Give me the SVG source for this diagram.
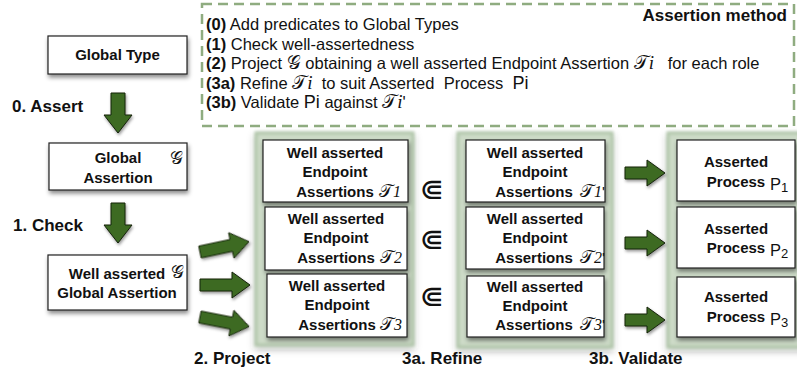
<svg xmlns="http://www.w3.org/2000/svg" width="797" height="371" viewBox="0 0 797 371">
<style>
.bx{fill:#fff;stroke:#222;stroke-width:1.2;filter:url(#sh)}
.bt{font-family:"Liberation Sans",Arial,sans-serif;font-weight:bold;font-size:15px;fill:#111;text-anchor:middle}
.lb{font-family:"Liberation Sans",Arial,sans-serif;font-weight:bold;font-size:17px;fill:#111}
.it{font-family:"Liberation Sans",Arial,sans-serif;font-size:16.5px;fill:#111}
.b{font-weight:bold}
.m{font-family:"DejaVu Serif","DejaVu Sans","Noto Sans",serif;font-weight:normal;font-style:normal}
.mi{font-family:"Liberation Serif","Times New Roman",serif;font-style:italic}
.pn{fill:#cddbc8;stroke:#afc5a8;stroke-width:3;filter:url(#psh)}
.ar{fill:#3d6a22;stroke:#15220c;stroke-width:1;filter:url(#ash)}
.sub{font-family:"DejaVu Serif","DejaVu Sans",serif;font-size:29px;fill:#111;text-anchor:middle}
</style>
<defs>
<filter id="sh" x="-20%" y="-20%" width="140%" height="160%"><feDropShadow dx="1" dy="3" stdDeviation="2" flood-color="#000" flood-opacity="0.45"/></filter>
<filter id="psh" x="-10%" y="-10%" width="120%" height="120%"><feGaussianBlur in="SourceGraphic" stdDeviation="1.5" result="b"/><feDropShadow in="b" dx="0" dy="3" stdDeviation="3" flood-color="#000" flood-opacity="0.3"/></filter>
<filter id="ash" x="-30%" y="-30%" width="160%" height="160%"><feDropShadow dx="1" dy="2" stdDeviation="1.5" flood-color="#000" flood-opacity="0.4"/></filter>
<path id="a50" d="M0,-6 H32 V-13 L50,0 L32,13 V6 H0 Z"/>
<path id="a40" d="M0,-6 H22 V-13 L40,0 L22,13 V6 H0 Z"/>
<path id="ad" d="M-7,0 V22 H-14 L0,40 L14,22 H7 V0 Z"/>
</defs>

<g id="method">
<rect x="202" y="4" width="592" height="122" fill="none" stroke="#8fac80" stroke-width="2.5" stroke-dasharray="10,6"/>
<text class="lb" x="787" y="21" text-anchor="end" font-size="16">Assertion method</text>
<text class="it" x="206" y="30"><tspan class="b">(0)</tspan> Add predicates to Global Types</text>
<text class="it" x="206" y="49.5"><tspan class="b">(1)</tspan> Check well-assertedness</text>
<text class="it" x="206" y="69" xml:space="preserve"><tspan class="b">(2)</tspan> Project <tspan class="m" font-size="19">𝒢</tspan> obtaining a well asserted Endpoint Assertion <tspan class="m" font-size="19">𝒯</tspan><tspan class="mi" font-size="19">i</tspan>   for each role</text>
<text class="it" x="206" y="88.5" xml:space="preserve"><tspan class="b">(3a)</tspan> Refine <tspan class="m" font-size="19">𝒯</tspan><tspan class="mi" font-size="19">i</tspan>  to suit Asserted  Process  <tspan font-size="18">Pi</tspan></text>
<text class="it" x="206" y="108" xml:space="preserve"><tspan class="b">(3b)</tspan> Validate <tspan font-size="18">Pi</tspan> against <tspan class="m" font-size="19">𝒯</tspan><tspan class="mi" font-size="19">i</tspan>'</text>
</g>

<g id="panels">
<rect class="pn" x="256" y="133" width="157" height="212"/>
<rect class="pn" x="458" y="133" width="154" height="214"/>
<rect class="pn" x="668" y="133" width="140" height="214"/>
</g>

<g id="globalType">
<rect class="bx" x="48" y="36" width="139" height="38"/>
<text class="bt" x="117.5" y="60">Global Type</text>
</g>
<g id="globalAssertion">
<rect class="bx" x="49" y="143" width="138" height="47"/>
<text class="bt" x="118" y="163">Global</text>
<text class="bt" x="118" y="183">Assertion</text>
<text class="m" x="170" y="164" font-size="18" fill="#111">𝒢</text>
</g>
<g id="wellGlobal">
<rect class="bx" x="48" y="255" width="139" height="55"/>
<text class="bt" x="117" y="279">Well asserted</text>
<text class="bt" x="117" y="298">Global Assertion</text>
<text class="m" x="171" y="278" font-size="18" fill="#111">𝒢</text>
</g>

<g id="ep1">
<rect class="bx" x="263" y="140" width="145" height="62"/>
<text class="bt" x="335" y="158">Well asserted</text>
<text class="bt" x="335" y="177">Endpoint</text>
<text class="bt" x="335" y="197">Assertions</text>
<text class="m" x="379" y="197" font-size="18" fill="#111">𝒯<tspan class="mi" font-size="16">1</tspan></text>
</g>
<g id="ep2">
<rect class="bx" x="265" y="207" width="142" height="63"/>
<text class="bt" x="336" y="224">Well asserted</text>
<text class="bt" x="336" y="243">Endpoint</text>
<text class="bt" x="336" y="263">Assertions</text>
<text class="m" x="380" y="263" font-size="18" fill="#111">𝒯<tspan class="mi" font-size="16">2</tspan></text>
</g>
<g id="ep3">
<rect class="bx" x="267" y="274" width="140" height="63"/>
<text class="bt" x="337" y="291">Well asserted</text>
<text class="bt" x="337" y="310">Endpoint</text>
<text class="bt" x="337" y="330">Assertions</text>
<text class="m" x="380" y="330" font-size="18" fill="#111">𝒯<tspan class="mi" font-size="16">3</tspan></text>
</g>

<g id="rf1">
<rect class="bx" x="466" y="140" width="139" height="62"/>
<text class="bt" x="535" y="158">Well asserted</text>
<text class="bt" x="535" y="177">Endpoint</text>
<text class="bt" x="534" y="197">Assertions</text>
<text class="m" x="580" y="197" font-size="18" fill="#111">𝒯<tspan class="mi" font-size="16">1</tspan><tspan font-family="Liberation Sans" font-size="15">'</tspan></text>
</g>
<g id="rf2">
<rect class="bx" x="466" y="207" width="138" height="62"/>
<text class="bt" x="535" y="224">Well asserted</text>
<text class="bt" x="535" y="243">Endpoint</text>
<text class="bt" x="534" y="263">Assertions</text>
<text class="m" x="580" y="263" font-size="18" fill="#111">𝒯<tspan class="mi" font-size="16">2</tspan><tspan font-family="Liberation Sans" font-size="15">'</tspan></text>
</g>
<g id="rf3">
<rect class="bx" x="467" y="276" width="137" height="61"/>
<text class="bt" x="535" y="292">Well asserted</text>
<text class="bt" x="535" y="311">Endpoint</text>
<text class="bt" x="534" y="330">Assertions</text>
<text class="m" x="580" y="330" font-size="18" fill="#111">𝒯<tspan class="mi" font-size="16">3</tspan><tspan font-family="Liberation Sans" font-size="15">'</tspan></text>
</g>

<g id="pr1">
<rect class="bx" x="677" y="140" width="118" height="61"/>
<text class="bt" x="736" y="167">Asserted</text>
<text class="bt" x="736" y="187">Process</text>
<text class="it" x="770" y="190" font-size="16">P<tspan font-size="13" dy="2">1</tspan></text>
</g>
<g id="pr2">
<rect class="bx" x="677" y="207" width="118" height="61"/>
<text class="bt" x="736" y="234">Asserted</text>
<text class="bt" x="736" y="253">Process</text>
<text class="it" x="770" y="256" font-size="16">P<tspan font-size="13" dy="2">2</tspan></text>
</g>
<g id="pr3">
<rect class="bx" x="677" y="277" width="118" height="60"/>
<text class="bt" x="736" y="302">Asserted</text>
<text class="bt" x="736" y="322">Process</text>
<text class="it" x="770" y="325" font-size="16">P<tspan font-size="13" dy="2">3</tspan></text>
</g>

<g id="connectors">
<use href="#ad" class="ar" transform="translate(118,93)"/>
<use href="#ad" class="ar" transform="translate(118,203)"/>
<use href="#a50" class="ar" transform="translate(200,252) rotate(-12)"/>
<use href="#a50" class="ar" transform="translate(200,285)"/>
<use href="#a50" class="ar" transform="translate(200,317) rotate(11)"/>
<use href="#a40" class="ar" transform="translate(625,173)"/>
<use href="#a40" class="ar" transform="translate(625,243)"/>
<use href="#a40" class="ar" transform="translate(625,320)"/>
<text class="sub" x="432" y="199">⋐</text>
<text class="sub" x="432" y="249">⋐</text>
<text class="sub" x="432" y="306">⋐</text>
</g>

<g id="labels">
<text class="lb" x="12" y="112">0. Assert</text>
<text class="lb" x="13" y="231">1. Check</text>
<text class="lb" x="194" y="364">2. Project</text>
<text class="lb" x="402" y="364">3a. Refine</text>
<text class="lb" x="589" y="364">3b. Validate</text>
</g>
</svg>
